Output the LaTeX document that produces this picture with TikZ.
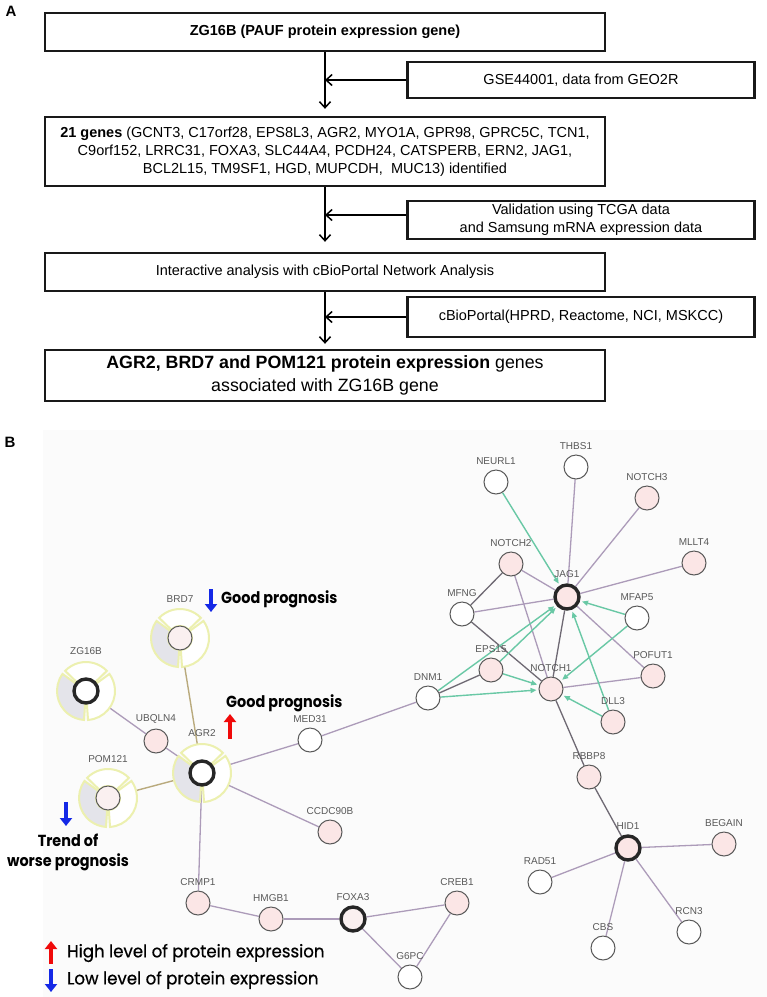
\documentclass[tikz,border=0pt]{standalone}
\usepackage{fontspec}
\setmainfont{Liberation Sans}
\newfontfamily\popn[FakeStretch=0.9]{Poppins}
\newfontfamily\popm[FakeStretch=0.95,FakeBold=0.6]{Poppins}
\usetikzlibrary{arrows.meta,calc}
\pgfdeclarelayer{back}\pgfdeclarelayer{edges}\pgfdeclarelayer{halos}
\pgfsetlayers{back,edges,halos,main}
\definecolor{cPK}{RGB}{251,230,230}
\definecolor{cPL}{RGB}{250,240,240}
\definecolor{cPE}{RGB}{172,155,185}
\definecolor{cDE}{RGB}{110,105,115}
\definecolor{cGE}{RGB}{105,200,165}
\definecolor{cTE}{RGB}{185,170,125}
\definecolor{cHY}{RGB}{236,240,175}
\definecolor{cHG}{RGB}{228,228,234}
\definecolor{cBL}{RGB}{20,40,230}
\definecolor{cRD}{RGB}{240,10,10}
\tikzset{
 fbox/.style={draw=black!90, line width=2.4pt, inner sep=0pt, align=center, font=\fontsize{14.5}{18}\selectfont},
 farr/.style={line width=1.5pt, -{Straight Barb[length=6pt,width=11pt]}},
 gn/.style={circle, minimum size=24pt, inner sep=0pt, draw=black!65, line width=1pt, fill=white},
 pk/.style={gn, fill=cPK},
 pl/.style={gn, fill=cPL},
 hub/.style={gn, draw=black!85, line width=3.4pt},
 lab/.style={font=\fontsize{10}{12}\selectfont, text=black!65, inner sep=0pt},
 lb/.style={label={[lab,label distance=5pt]above:#1}},
 hb/.style={label={[lab,label distance=23pt]above:#1}},
 pe/.style={draw=cPE, line width=1.3pt},
 de/.style={draw=cDE, line width=1.3pt},
 te/.style={draw=cTE, line width=1.4pt},
 ge/.style={draw=cGE, line width=1.4pt, -{Triangle[length=6pt,width=5pt]}, shorten >=2pt},
 carr/.style={line width=4.5pt, -{Triangle[length=8pt,width=12pt]}},
 gp/.style={font=\popn\bfseries\fontsize{16}{20}\selectfont, inner sep=0pt},
 lg/.style={font=\popm\fontsize{17.5}{20}\selectfont, inner sep=0pt},
 halo/.pic={
  \foreach \a/\b/\c in {44/136/white,144/266/cHG,274/396/white}
   \filldraw[fill=\c, draw=cHY, line width=2pt] (\a:29) arc[start angle=\a,end angle=\b,radius=29] -- (\b:12) arc[start angle=\b,end angle=\a,radius=12] -- cycle;
 }
}
\begin{document}
\begin{tikzpicture}[x=1pt,y=1pt]
\useasboundingbox (0,0) rectangle (767,-997);
\begin{pgfonlayer}{back}
\fill[white] (0,0) rectangle (767,-997);
\fill[black!1.5] (43,-430) rectangle (767,-997);
\end{pgfonlayer}

% ---------- Panel A ----------
\node[font=\bfseries\fontsize{15}{18}\selectfont] (lA) at (11,-11) {A};
\node[fbox, minimum width=560pt, minimum height=38pt] (b1) at (325,-32) {\bfseries ZG16B (PAUF protein expression gene)};
\node[fbox, minimum width=347pt, minimum height=36pt] (gse) at (581,-80) {GSE44001, data from GEO2R};
\node[fbox, minimum width=560pt, minimum height=69pt] (b2) at (325,-151.5) {{\bfseries 21 genes} (GCNT3, C17orf28, EPS8L3, AGR2, MYO1A, GPR98, GPRC5C, TCN1,\\ C9orf152, LRRC31, FOXA3, SLC44A4, PCDH24, CATSPERB, ERN2, JAG1,\\ BCL2L15, TM9SF1, HGD, MUPCDH, \ MUC13) identified};
\node[fbox, minimum width=347pt, minimum height=38pt] (val) at (581,-220) {Validation using TCGA data\\and Samsung mRNA expression data};
\node[fbox, minimum width=560pt, minimum height=38pt] (b3) at (325,-272) {Interactive analysis with cBioPortal Network Analysis};
\node[fbox, minimum width=347pt, minimum height=40pt] (cb) at (581,-317) {cBioPortal(HPRD, Reactome, NCI, MSKCC)};
\node[fbox, minimum width=560pt, minimum height=51pt, font=\fontsize{17.8}{23}\selectfont] (b4) at (325,-375.5) {{\bfseries AGR2, BRD7 and POM121 protein expression} genes\\associated with ZG16B gene};
\draw[farr, shorten >=7pt] (b1) -- (b2);
\draw[farr, shorten >=10pt] (b2) -- (b3);
\draw[farr, shorten >=5pt] (b3) -- (b4);
\draw[farr] (gse) -- (gse -| b1);
\draw[farr] ([yshift=5pt]val.west) -- ([yshift=5pt]val.west -| b1);
\draw[farr] (cb) -- (cb -| b1);

% ---------- Panel B ----------
\node[font=\bfseries\fontsize{15}{18}\selectfont] (lB) at (10,-442) {B};

\node[hub, hb=ZG16B] (zg) at (86,-691) {};
\node[pl, hb=BRD7] (brd) at (180,-638) {};
\node[pk, lb=UBQLN4] (ub) at (156,-741) {};
\node[hub, hb=AGR2] (agr) at (202,-773) {};
\node[pl, hb=POM121] (pom) at (108,-798) {};
\node[gn, lb=MED31] (med) at (310,-740) {};
\node[pk, lb=CCDC90B] (ccd) at (330,-832) {};
\node[pk, lb=CRMP1] (crm) at (198,-903) {};
\node[pk, lb=HMGB1] (hmg) at (271,-919) {};
\node[hub, fill=cPL, lb=FOXA3] (fox) at (353,-919) {};
\node[pk, lb=CREB1] (creb) at (457,-903) {};
\node[gn, lb=G6PC] (g6) at (410,-977) {};
\node[gn, lb=DNM1] (dnm) at (428,-698) {};
\node[pk, lb=EPS15] (eps) at (491,-670) {};
\node[pk, lb=NOTCH1] (n1) at (551,-689) {};
\node[gn, lb=MFNG] (mfng) at (462,-614) {};
\node[pk, lb=NOTCH2] (n2) at (511,-564) {};
\node[hub, fill=cPK, label={[lab,label distance=6pt]above:JAG1}] (jag) at (567,-597) {};
\node[gn, lb=NEURL1] (neu) at (496,-482) {};
\node[gn, lb=THBS1] (thbs) at (576,-467) {};
\node[pk, lb=NOTCH3] (n3) at (647,-498) {};
\node[pk, lb=MLLT4] (mllt) at (694,-563) {};
\node[gn, lb=MFAP5] (mfap) at (637,-618) {};
\node[pk, lb=POFUT1] (pof) at (653,-676) {};
\node[pk, lb=DLL3] (dll) at (613,-722) {};
\node[pk, lb=RBBP8] (rbb) at (589,-777) {};
\node[hub, fill=cPK, lb=HID1] (hid) at (628,-848) {};
\node[pk, lb=BEGAIN] (beg) at (724,-844) {};
\node[gn, lb=RAD51] (rad) at (540,-882) {};
\node[gn, lb=CBS] (cbs) at (603,-948) {};
\node[gn, lb=RCN3] (rcn) at (689,-932) {};

\begin{pgfonlayer}{halos}
\pic at (zg) {halo};
\pic at (brd) {halo};
\pic at (agr) {halo};
\pic at (pom) {halo};
\end{pgfonlayer}

\begin{pgfonlayer}{edges}
\draw[pe] (zg) -- (ub);
\draw[pe] (ub) -- (agr);
\draw[te] (brd) -- (agr);
\draw[te] (pom) -- (agr);
\draw[pe] (agr) -- (med);
\draw[pe] (med) -- (dnm);
\draw[pe] (agr) -- (ccd);
\draw[pe] (agr) -- (crm);
\draw[pe] (crm) -- (hmg);
\draw[pe] (hmg) -- (fox);
\draw[pe] (fox) -- (creb);
\draw[pe] (fox) -- (g6);
\draw[pe] (creb) -- (g6);
\draw[de] (dnm) -- (eps);
\draw[pe] (mfng) -- (jag);
\draw[de] (mfng) -- (n2);
\draw[de] (mfng) -- (n1);
\draw[pe] (n2) -- (jag);
\draw[pe] (n2) -- (n1);
\draw[pe] (thbs) -- (jag);
\draw[pe] (n3) -- (jag);
\draw[pe] (mllt) -- (jag);
\draw[pe] (pof) -- (jag);
\draw[pe] (pof) -- (n1);
\draw[de] (jag) -- (n1);
\draw[de] (n1) -- (rbb);
\draw[de] (rbb) -- (hid);
\draw[pe] (hid) -- (beg);
\draw[pe] (hid) -- (rad);
\draw[pe] (hid) -- (cbs);
\draw[pe] (hid) -- (rcn);
\draw[ge] (neu) -- (jag);
\draw[ge] (dnm) -- (jag);
\draw[ge] (eps) -- (jag);
\draw[ge] (mfap) -- (jag);
\draw[ge] (dll) -- (jag);
\draw[ge] (dnm) -- (n1);
\draw[ge] (eps) -- (n1);
\draw[ge] (mfap) -- (n1);
\draw[ge] (dll) -- (n1);
\end{pgfonlayer}

% annotations
\coordinate (u1a) at (211,-589); \coordinate (u1b) at (211,-612);
\draw[carr, cBL] (u1a) -- (u1b);
\coordinate (r1a) at (230,-739); \coordinate (r1b) at (230,-714);
\draw[carr, cRD] (r1a) -- (r1b);
\coordinate (u2a) at (66,-802); \coordinate (u2b) at (66,-826);
\draw[carr, cBL] (u2a) -- (u2b);
\coordinate (r2a) at (51,-964); \coordinate (r2b) at (51,-941);
\draw[carr, cRD] (r2a) -- (r2b);
\coordinate (u3a) at (51,-969); \coordinate (u3b) at (51,-992);
\draw[carr, cBL] (u3a) -- (u3b);

\node[gp, anchor=west] (gp1) at (221,-599) {Good prognosis};
\node[gp, anchor=west] (gp2) at (226,-703) {Good prognosis};
\node[gp, align=center] (tw) at (68,-852) {Trend of\\worse prognosis};
\node[lg, anchor=west] (lg1) at (67,-953) {High level of protein expression};
\node[lg, anchor=west] (lg2) at (67,-980) {Low level of protein expression};
\end{tikzpicture}
\end{document}
